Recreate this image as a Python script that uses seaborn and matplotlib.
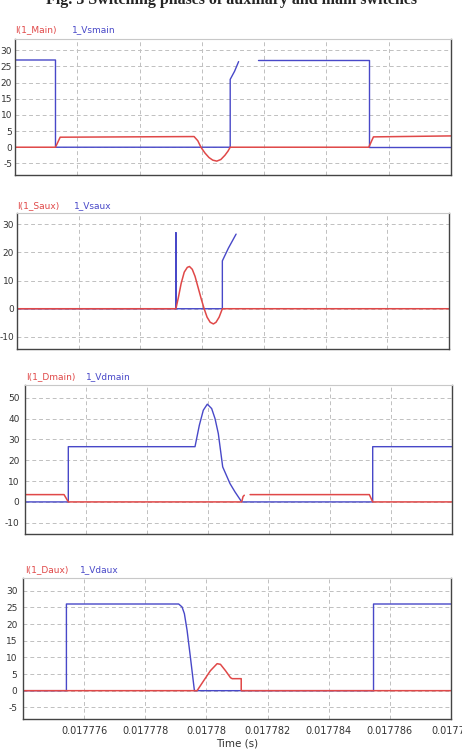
import numpy as np
import pandas as pd
import matplotlib
matplotlib.use("Agg")
import matplotlib.pyplot as plt
import seaborn as sns

nan = np.nan
T_START, T_END = 0.017774, 0.017788
US = 1e-6  # times below are microseconds after 0.017776 s
T_REF = 0.017776

# ---- panel 1: main switch ----
p1_label_i, p1_label_v = "I(1_Main)", "1_Vsmain"
p1_v_t = [-2.0, -0.70, -0.70, 4.91, 4.91, 5.05, 5.18, nan, 5.80, 9.36, 9.36, 12.0]
p1_v_y = [27, 27, 0, 0, 21, 23.5, 26.5, nan, 27, 27, 0, 0]
p1_i_t = [-2.0, -0.70, -0.55, 3.75, 3.87, 3.97, 4.10, 4.23, 4.35, 4.48, 4.61, 4.74, 4.84, 4.91, 9.36, 9.51, 12.0]
p1_i_y = [0, 0, 3.1, 3.3, 2.0, 0, -1.8, -3.2, -4.0, -4.3, -3.8, -2.5, -1.2, 0, 0, 3.2, 3.5]

# ---- panel 2: auxiliary switch ----
p2_label_i, p2_label_v = "I(1_Saux)", "1_Vsaux"
p2_v_t = [-2.0, 3.15, 3.15, 3.15, 4.655, 4.655, 4.85, 5.10]
p2_v_y = [0, 0, 27, 0, 0, 17, 21.5, 26.5]
p2_i_t = [-2.0, 3.15, 3.23, 3.32, 3.42, 3.52, 3.59, 3.68, 3.77, 3.87, 3.97, 4.065, 4.16, 4.26, 4.365, 4.45, 4.55, 4.655, 12.0]
p2_i_y = [0, 0, 4, 9, 13, 14.7, 15, 14, 11.5, 7.5, 3.5, 0, -3, -4.8, -5.4, -4.8, -3, 0, 0]

# ---- panel 3: main diode ----
p3_label_i, p3_label_v = "I(1_Dmain)", "1_Vdmain"
p3_v_t = [-2.0, -0.58, -0.58, 3.574, 3.716, 3.846, 3.977, 4.12, 4.23, 4.338, 4.482, 4.721, 4.885, 5.105, 9.40, 9.40, 12.0]
p3_v_y = [0, 0, 26.5, 26.5, 36.8, 44, 46.9, 44.8, 40, 32.8, 16.8, 8.8, 4.8, 0, 0, 26.5, 26.5]
p3_i_t = [-2.0, -0.72, -0.58, 5.105, 5.15, 5.19, nan, 5.38, 9.29, 9.40, 12.0]
p3_i_y = [3.5, 3.5, 0, 0, 2.6, 3.2, nan, 3.5, 3.5, 0, 0]

# ---- panel 4: auxiliary diode ----
p4_label_i, p4_label_v = "I(1_Daux)", "1_Vdaux"
p4_v_t = [-2.0, -0.58, -0.58, 3.092, 3.203, 3.279, 3.367, 3.475, 3.607, 9.466, 9.466, 12.0]
p4_v_y = [0, 0, 26, 26, 25.1, 23.1, 18.1, 10.1, 0, 0, 26, 26]
p4_i_t = [-2.0, 3.695, 3.911, 4.131, 4.35, 4.459, 4.623, 4.787, 4.843, 5.138, 5.138, 12.0]
p4_i_y = [0, 0, 3, 6, 8.1, 7.9, 6, 3.9, 3.6, 3.6, 0, 0]

x_ticks = [0.017776, 0.017778, 0.01778, 0.017782, 0.017784, 0.017786, 0.017788]
x_ticklabels = ["0.017776", "0.017778", "0.01778", "0.017782", "0.017784", "0.017786", "0.01778"]

panels = [
    dict(li=p1_label_i, lv=p1_label_v, vt=p1_v_t, vy=p1_v_y, it=p1_i_t, iy=p1_i_y,
         box=(15, 39, 451, 175), ylim=(-8.6, 33.5), yticks=[-5, 0, 5, 10, 15, 20, 25, 30],
         ytl=["-5", "0", "5", "10", "15", "20", "25", "30"], leg=(15, 72, 30), pad=2),
    dict(li=p2_label_i, lv=p2_label_v, vt=p2_v_t, vy=p2_v_y, it=p2_i_t, iy=p2_i_y,
         box=(17, 213, 449, 349), ylim=(-14.3, 34), yticks=[-10, 0, 10, 20, 30],
         ytl=["-10", "0", "10", "20", "30"], leg=(17, 74, 206), pad=2),
    dict(li=p3_label_i, lv=p3_label_v, vt=p3_v_t, vy=p3_v_y, it=p3_i_t, iy=p3_i_y,
         box=(25, 385, 452, 534), ylim=(-15.4, 56.1), yticks=[-10, 0, 10, 20, 30, 40, 50],
         ytl=["-10", "0", "10", "20", "30", "40", "50"], leg=(26, 86, 377), pad=4),
    dict(li=p4_label_i, lv=p4_label_v, vt=p4_v_t, vy=p4_v_y, it=p4_i_t, iy=p4_i_y,
         box=(23, 578, 451, 719), ylim=(-8.5, 33.8), yticks=[-5, 0, 5, 10, 15, 20, 25, 30],
         ytl=["-5", "0", "5", "10", "15", "20", "25", "30"], leg=(25, 80, 570), pad=4),
]

sns.set_style("white")
plt.rcParams["font.family"] = ["DejaVu Sans"]

W, H = 462, 752
fig = plt.figure(figsize=(W / 100, H / 100), dpi=100)

RED = "#e04848"
BLUE = "#4848c8"


def segs(ts, ys):
    rows = []
    seg = 0
    for t, y in zip(ts, ys):
        if np.isnan(t):
            seg += 1
            continue
        rows.append((T_REF + t * US, y, seg))
    return pd.DataFrame(rows, columns=["t", "y", "seg"])


for k, p in enumerate(panels):
    l, t, r, b = p["box"]
    ax = fig.add_axes([l / W, 1 - b / H, (r - l) / W, (b - t) / H])
    dv = segs(p["vt"], p["vy"])
    di = segs(p["it"], p["iy"])
    sns.lineplot(data=dv, x="t", y="y", units="seg", estimator=None, sort=False,
                 color=BLUE, lw=1.0, ax=ax)
    sns.lineplot(data=di, x="t", y="y", units="seg", estimator=None, sort=False,
                 color=RED, lw=1.1, ax=ax)
    ax.set_xlim(T_START, T_END)
    ax.set_ylim(*p["ylim"])
    ax.set_xticks(x_ticks)
    ax.set_yticks(p["yticks"])
    ax.set_yticklabels(p["ytl"])
    ax.grid(True, color="#c0c0c0", ls=(0, (4, 3)), lw=0.7)
    ax.tick_params(length=0, labelsize=6.5, colors="#333333")
    ax.tick_params(axis="y", pad=p["pad"])
    ax.set_ylabel("")
    for s in ["left", "right", "bottom"]:
        ax.spines[s].set_color("#444444")
        ax.spines[s].set_linewidth(1.0)
    ax.spines["top"].set_color("#c8c8c8")
    ax.spines["top"].set_linewidth(0.8)
    if k == 3:
        ax.set_xticklabels(x_ticklabels)
        ax.set_xlabel("Time (s)", fontsize=7.5, color="#333333", labelpad=2)
        ax.tick_params(axis="x", pad=5, labelsize=7)
    else:
        ax.set_xticklabels([])
        ax.set_xlabel("")
    xi, xv, yl = p["leg"]
    fig.text(xi / W, 1 - yl / H, p["li"], color=RED, fontsize=6.5, va="center", ha="left")
    fig.text(xv / W, 1 - yl / H, p["lv"], color=BLUE, fontsize=6.5, va="center", ha="left")

fig.text(0.5, 1 - 4 / H, "Fig. 3 Switching phases of auxiliary and main switches",
         ha="center", va="baseline", fontsize=11.5, fontweight="bold",
         family=["Liberation Serif", "DejaVu Serif"])

fig.savefig("out.png", dpi=100)
